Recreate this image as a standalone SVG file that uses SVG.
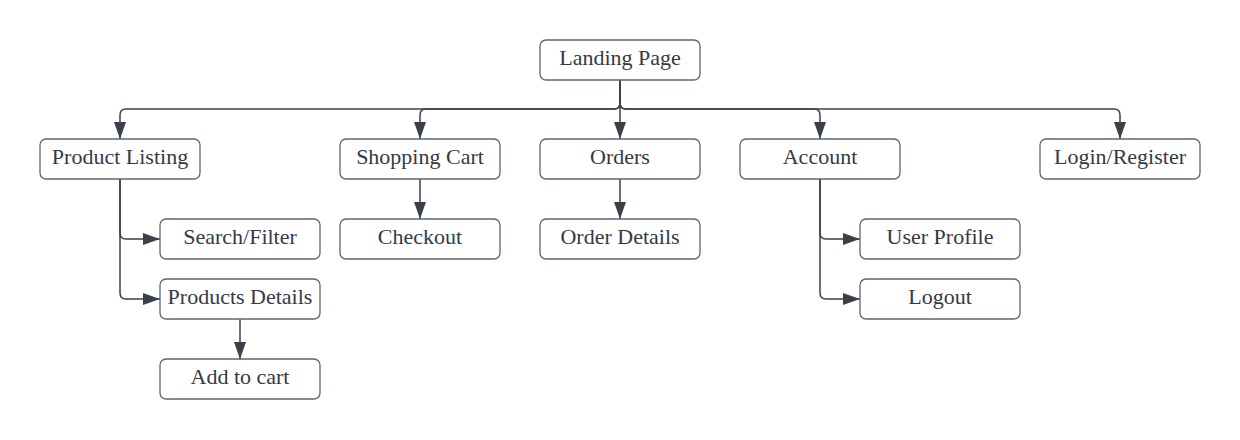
<svg xmlns="http://www.w3.org/2000/svg" width="1240" height="440" viewBox="0 0 1240 440">
<defs>
<style>
.box rect{fill:#ffffff;stroke:#5f6670;stroke-width:1.3}
.box text{font-family:"Liberation Serif","Times New Roman",serif;font-size:22px;fill:#333a44;text-anchor:middle}
#connectors path{fill:none;stroke:#3a414a;stroke-width:1.5;marker-end:url(#arr)}
</style>
<marker id="arr" markerUnits="userSpaceOnUse" viewBox="0 0 17 12" markerWidth="17" markerHeight="12" refX="17" refY="6" orient="auto">
<path d="M0,0 L17,6 L0,12 z" fill="#3a414a"/>
</marker>
</defs>
<rect width="1240" height="440" fill="#ffffff"/>
<g id="connectors">
<path d="M620,80 V103 Q620,109 614,109 H126 Q120,109 120,115 V139"/>
<path d="M620,80 V103 Q620,109 614,109 H426 Q420,109 420,115 V139"/>
<path d="M620,80 V139"/>
<path d="M620,80 V103 Q620,109 626,109 H814 Q820,109 820,115 V139"/>
<path d="M620,80 V103 Q620,109 626,109 H1114 Q1120,109 1120,115 V139"/>
<path d="M120,179 V233 Q120,239 126,239 H160"/>
<path d="M120,179 V293 Q120,299 126,299 H160"/>
<path d="M240,319 V359"/>
<path d="M420,179 V219"/>
<path d="M620,179 V219"/>
<path d="M820,179 V233 Q820,239 826,239 H860"/>
<path d="M820,179 V293 Q820,299 826,299 H860"/>
</g>
<g id="landing" class="box"><rect x="540" y="40" width="160" height="40" rx="6"/><text x="620" y="65">Landing Page</text></g>
<g id="product-listing" class="box"><rect x="40" y="139" width="160" height="40" rx="6"/><text x="120" y="164">Product Listing</text></g>
<g id="shopping-cart" class="box"><rect x="340" y="139" width="160" height="40" rx="6"/><text x="420" y="164">Shopping Cart</text></g>
<g id="orders" class="box"><rect x="540" y="139" width="160" height="40" rx="6"/><text x="620" y="164">Orders</text></g>
<g id="account" class="box"><rect x="740" y="139" width="160" height="40" rx="6"/><text x="820" y="164">Account</text></g>
<g id="login" class="box"><rect x="1040" y="139" width="160" height="40" rx="6"/><text x="1120" y="164">Login/Register</text></g>
<g id="search" class="box"><rect x="160" y="219" width="160" height="40" rx="6"/><text x="240" y="244">Search/Filter</text></g>
<g id="checkout" class="box"><rect x="340" y="219" width="160" height="40" rx="6"/><text x="420" y="244">Checkout</text></g>
<g id="order-details" class="box"><rect x="540" y="219" width="160" height="40" rx="6"/><text x="620" y="244">Order Details</text></g>
<g id="user-profile" class="box"><rect x="860" y="219" width="160" height="40" rx="6"/><text x="940" y="244">User Profile</text></g>
<g id="products-details" class="box"><rect x="160" y="279" width="160" height="40" rx="6"/><text x="240" y="304">Products Details</text></g>
<g id="logout" class="box"><rect x="860" y="279" width="160" height="40" rx="6"/><text x="940" y="304">Logout</text></g>
<g id="add-to-cart" class="box"><rect x="160" y="359" width="160" height="40" rx="6"/><text x="240" y="384">Add to cart</text></g>
</svg>
